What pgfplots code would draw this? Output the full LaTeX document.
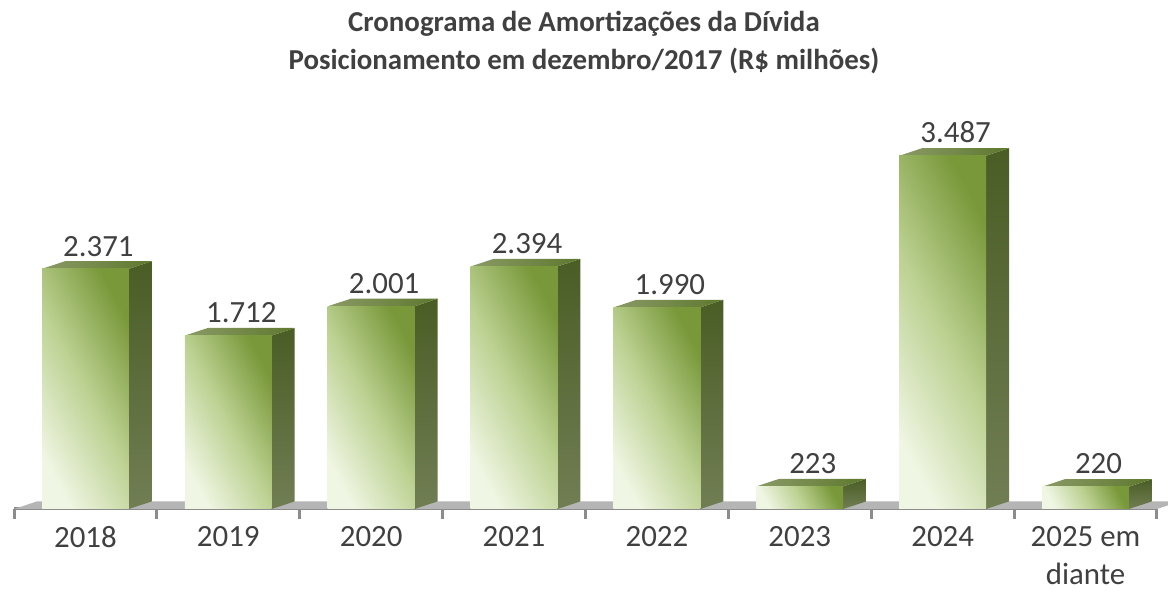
\documentclass[border=0pt]{standalone}
\usepackage{fontspec}
\setmainfont{Carlito}
\usepackage{pgfplots}
\pgfplotsset{compat=1.18}
\usepackage{pgfplotstable}

\definecolor{txt}{HTML}{404040}
\definecolor{frontlight}{HTML}{F0F6E4}
\definecolor{frontmid}{HTML}{BCD192}
\definecolor{frontdark}{HTML}{789839}
\definecolor{sidetop}{HTML}{4A5D25}
\definecolor{sidebot}{HTML}{717E54}
\definecolor{topl}{HTML}{8A9A66}
\definecolor{topr}{HTML}{5E782E}
\definecolor{floorc}{HTML}{B5B5B5}
\definecolor{axisc}{HTML}{8C8C8C}

% R$ milhoes
\pgfplotstableread{
x v
0 2371
1 1712
2 2001
3 2394
4 1990
5 223
6 3487
7 220
}\amort

\def\hw{0.304}  % half bar width
\def\dx{0.161}  % depth, x
\def\dy{75}     % depth, y

\pgfplotsset{
  frontface/.style={draw=none, bottom color=frontlight, top color=frontdark,
    middle color=frontmid, shading angle=-62},
  sideface/.style={draw=none, top color=sidetop, bottom color=sidebot},
  topface/.style={draw=none, left color=topl, right color=topr},
}

\begin{document}
\begin{tikzpicture}[x=1bp,y=1bp]
\useasboundingbox (-14,-92) rectangle (1154,509);
\begin{axis}[
  at={(0,0)}, anchor=south west,
  scale only axis, width=1143bp, height=506.5bp,
  xmin=-0.5, xmax=7.5, ymin=0, ymax=5000,
  clip=false,
  axis x line*=bottom, axis y line=none,
  x axis line style={draw=axisc, line width=3bp, -},
  xtick={0,...,7},
  xticklabels={2018,2019,2020,2021,2022,2023,2024,{2025 em\\diante}},
  major tick length=0pt,
  minor xtick={-0.5,0.5,...,7.5},
  minor tick length=10bp,
  tick align=outside,
  minor tick style={draw=axisc, line width=3bp},
  ytick=\empty,
  ticklabel style={font=\fontsize{31}{38}\selectfont, text=txt},
  xticklabel style={align=center, yshift=-14bp},
  /pgf/number format/assume math mode=true,
  /pgf/number format/1000 sep={.},
]
% floor
\addplot[fill=floorc, draw=none] coordinates {(-0.5,0) (7.5,0) (7.5+\dx,\dy) (-0.5+\dx,\dy)} --cycle;

% the three visible faces of each bar
\pgfplotsinvokeforeach{0,...,7}{
  \pgfplotstablegetelem{#1}{v}\of\amort
  \pgfmathsetmacro\va{\pgfplotsretval}
  \pgfmathsetmacro\vb{\pgfplotsretval+\dy}
  \pgfmathsetmacro\xl{#1-\hw}
  \pgfmathsetmacro\xa{#1+\hw}
  \pgfmathsetmacro\xb{#1+\hw+\dx}
  \pgfmathsetmacro\xc{#1-\hw+\dx}
  \edef\temp{%
    \noexpand\addplot[sideface] coordinates {(\xa,0) (\xb,\dy) (\xb,\vb) (\xa,\va)} --cycle;
    \noexpand\addplot[topface] coordinates {(\xl,\va) (\xc,\vb) (\xb,\vb) (\xa,\va)} --cycle;
    \noexpand\addplot[frontface] coordinates {(\xl,0) (\xa,0) (\xa,\va) (\xl,\va)} --cycle;
  }\temp
}

% value labels
\addplot[draw=none, mark=none,
  nodes near coords={\pgfmathprintnumber{\pgfplotspointmeta}},
  point meta=y,
  nodes near coords style={font=\fontsize{31}{38}\selectfont, text=txt,
    anchor=south, xshift=13bp, yshift=9bp},
] table[x=x, y=v] {\amort};
\end{axis}
\node[font=\bfseries\fontsize{29}{34}\selectfont, text=txt, anchor=base] at (570,477) {Cronograma de Amortizações da Dívida};
\node[font=\bfseries\fontsize{29}{34}\selectfont, text=txt, anchor=base] at (570,439) {Posicionamento em dezembro/2017 (R\$ milhões)};
\end{tikzpicture}
\end{document}
